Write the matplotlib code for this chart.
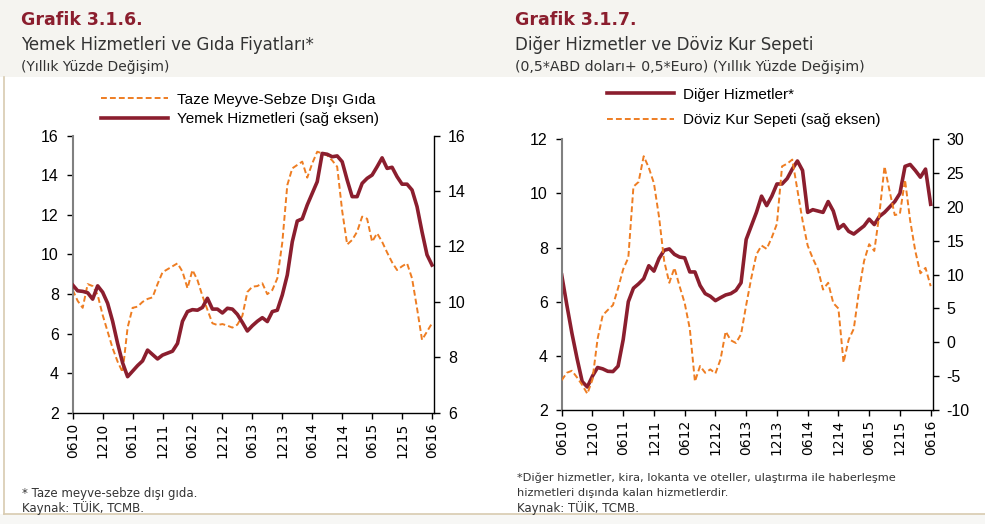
import matplotlib
matplotlib.use("Agg")
import matplotlib.pyplot as plt
from matplotlib.patches import Rectangle
from matplotlib.lines import Line2D

plt.rcParams["axes.unicode_minus"] = False

# monthly, 0610 .. 0616
TICK_LABELS = ["0610", "1210", "0611", "1211", "0612", "1212", "0613",
               "1213", "0614", "1214", "0615", "1215", "0616"]

# Grafik 3.1.6
gida = [8.2, 7.65, 7.3, 8.5, 8.4, 7.95, 6.94, 6.1, 5.26, 4.58,
        4.05, 6.3, 7.3, 7.36, 7.6, 7.75, 7.83, 8.5, 9.1, 9.25,
        9.4, 9.55, 9.13, 8.29, 9.21, 8.7, 7.9, 7.2, 6.52, 6.43,
        6.48, 6.4, 6.3, 6.45, 6.9, 8.1, 8.37, 8.4, 8.54, 7.99,
        8.2, 8.79, 10.6, 13.5, 14.35, 14.52, 14.69, 13.88, 14.6, 15.19,
        15.11, 15.0, 14.75, 14.43, 12.2, 10.5, 10.73, 11.15, 11.91, 11.8,
        10.64, 11.07, 10.64, 10.1, 9.6, 9.21, 9.4, 9.55, 8.79, 7.28,
        5.68, 6.1, 6.52]
yemek = [10.61, 10.4, 10.38, 10.33, 10.1, 10.58, 10.35, 9.95, 9.3, 8.5,
         7.8, 7.3, 7.5, 7.7, 7.87, 8.26, 8.1, 7.94, 8.08, 8.15,
         8.22, 8.5, 9.3, 9.65, 9.72, 9.7, 9.8, 10.13, 9.74, 9.74,
         9.6, 9.77, 9.74, 9.55, 9.26, 8.95, 9.14, 9.3, 9.43, 9.29,
         9.65, 9.7, 10.25, 10.97, 12.17, 12.92, 13.0, 13.5, 13.92, 14.34,
         15.36, 15.33, 15.24, 15.27, 15.06, 14.4, 13.8, 13.8, 14.28, 14.46,
         14.58, 14.88, 15.2, 14.82, 14.86, 14.52, 14.25, 14.25, 14.04, 13.44,
         12.53, 11.7, 11.33]

# Grafik 3.1.7
diger = [6.99, 5.88, 4.83, 3.9, 3.05, 2.85, 3.25, 3.57, 3.52, 3.43,
         3.42, 3.62, 4.6, 6.0, 6.5, 6.66, 6.85, 7.33, 7.13, 7.6,
         7.9, 7.95, 7.75, 7.65, 7.62, 7.1, 7.1, 6.6, 6.3, 6.2,
         6.04, 6.15, 6.25, 6.3, 6.42, 6.7, 8.3, 8.8, 9.3, 9.9,
         9.55, 9.9, 10.35, 10.35, 10.55, 10.9, 11.2, 10.85, 9.3, 9.4,
         9.35, 9.3, 9.7, 9.35, 8.7, 8.85, 8.6, 8.5, 8.65, 8.8,
         9.05, 8.85, 9.15, 9.3, 9.5, 9.7, 10.0, 11.0, 11.07, 10.85,
         10.6, 10.9, 9.6]
kur = [-5.6, -4.5, -4.2, -5.2, -6.3, -7.6, -5.5, 0.5, 4.0, 4.78,
       5.5, 8.0, 10.8, 12.5, 23.0, 23.7, 27.5, 25.8, 23.5, 18.5,
       12.0, 8.8, 11.0, 8.3, 5.8, 2.0, -5.8, -3.5, -4.5, -4.0,
       -4.6, -2.5, 1.6, 0.3, -0.1, 1.2, 5.5, 9.5, 13.0, 14.3,
       13.8, 15.5, 17.5, 26.0, 26.4, 27.0, 22.5, 18.0, 14.3, 12.4,
       10.8, 7.8, 8.8, 5.8, 5.0, -3.0, 0.4, 2.0, 7.5, 12.0,
       14.5, 13.5, 19.0, 26.0, 22.3, 18.8, 19.0, 24.0, 18.0, 13.5,
       10.2, 11.0, 8.3]

RED = "#8B1E2E"
ORANGE = "#EE7D22"
BEIGE = "#F5F4F0"
TAN = "#D8CBB0"
TXT = "#333333"

W, H = 985, 524
fig = plt.figure(figsize=(W / 100, H / 100), dpi=100)
fig.patch.set_facecolor("white")

def px(x0, y0, x1, y1):
    # pixel box (top-left origin) -> figure fraction rect
    return [x0 / W, 1 - y1 / H, (x1 - x0) / W, (y1 - y0) / H]

# page decoration
fig.patches.append(Rectangle((0, 1 - 77 / H), 1, 77 / H, transform=fig.transFigure,
                             facecolor=BEIGE, edgecolor="none", zorder=-10))
fig.patches.append(Rectangle((0, 0), 1, 10 / H, transform=fig.transFigure,
                             facecolor="#F7F7F5", edgecolor="none", zorder=-10))
fig.lines.append(Line2D([4 / W, 4 / W], [10 / H, 1 - 77 / H], transform=fig.transFigure,
                        color=TAN, lw=1.2))
fig.lines.append(Line2D([4 / W, 1], [10 / H, 10 / H], transform=fig.transFigure,
                        color=TAN, lw=1.2))

TF = "DejaVu Sans"
AF = "Liberation Sans"

def header(x, title, sub, sub2, s1=12, s2=10):
    fig.text(x / W, 1 - 20 / H, title, fontsize=12.5, fontweight="bold", color=RED,
             family=TF, va="center", ha="left")
    fig.text(x / W, 1 - 45 / H, sub, fontsize=s1, color=TXT, family=TF,
             va="center", ha="left")
    fig.text(x / W, 1 - 67 / H, sub2, fontsize=s2, color=TXT, family=TF,
             va="center", ha="left")

header(21, "Grafik 3.1.6.", "Yemek Hizmetleri ve Gıda Fiyatları*", "(Yıllık Yüzde Değişim)")
header(515, "Grafik 3.1.7.", "Diğer Hizmetler ve Döviz Kur Sepeti",
       "(0,5*ABD doları+ 0,5*Euro) (Yıllık Yüzde Değişim)", s1=12, s2=10.2)

def style(ax, ax2, n):
    x = list(range(n))
    ax.set_xlim(0, n - 1 + 0.4)
    ax.set_xticks(x[::6])
    for a in (ax, ax2):
        a.set_facecolor("none")
        a.spines["top"].set_visible(False)
        a.tick_params(axis="y", direction="out", length=4, width=1, pad=6,
                      labelsize=11.5, colors="black")
    ax.tick_params(axis="x", direction="out", length=4, width=1, pad=3,
                   labelsize=10, colors="black")
    ax.set_xticklabels(TICK_LABELS, rotation=90, family=TF, fontsize=10)
    ax.spines["right"].set_visible(False)
    ax.spines["left"].set_color("#808080")
    ax.spines["left"].set_linewidth(1.5)
    ax.spines["bottom"].set_linewidth(1.0)
    ax2.spines["left"].set_visible(False)
    ax2.spines["bottom"].set_visible(False)
    ax2.spines["right"].set_linewidth(1.0)
    for a in (ax, ax2):
        for lab in a.get_yticklabels():
            lab.set_family(AF)

# ---- left chart
ax1 = fig.add_axes(px(72.7, 135.7, 434, 412.7))
ax1b = ax1.twinx()
x = list(range(len(gida)))
l1, = ax1.plot(x, gida, color=ORANGE, lw=1.4, dashes=(3, 1.6))
l2, = ax1b.plot(x, yemek, color=RED, lw=2.6, solid_joinstyle="round")
ax1.set_ylim(2, 16)
ax1.set_yticks(range(2, 17, 2))
ax1b.set_ylim(6, 16)
ax1b.set_yticks(range(6, 17, 2))
style(ax1, ax1b, len(gida))
fig.legend([l1, l2], ["Taze Meyve-Sebze Dışı Gıda", "Yemek Hizmetleri (sağ eksen)"],
           loc="upper left", bbox_to_anchor=(93 / W, 1 - 85 / H), frameon=False,
           prop={"family": AF, "size": 11}, handlelength=4.4, handletextpad=0.6,
           labelspacing=0.35, borderpad=0)

# ---- right chart
ax2 = fig.add_axes(px(561.7, 139.3, 932.7, 410))
ax2b = ax2.twinx()
x = list(range(len(diger)))
r1, = ax2.plot(x, diger, color=RED, lw=2.6, solid_joinstyle="round")
r2, = ax2b.plot(x, kur, color=ORANGE, lw=1.4, dashes=(3, 1.6))
ax2.set_ylim(2, 12)
ax2.set_yticks(range(2, 13, 2))
ax2b.set_ylim(-10, 30)
ax2b.set_yticks(range(-10, 31, 5))
style(ax2, ax2b, len(diger))
fig.legend([r1, r2], ["Diğer Hizmetler*", "Döviz Kur Sepeti (sağ eksen)"],
           loc="upper left", bbox_to_anchor=(599 / W, 1 - 80 / H), frameon=False,
           prop={"family": AF, "size": 11}, handlelength=4.4, handletextpad=0.6,
           labelspacing=0.75, borderpad=0)

# ---- notes
NS = 8.5
fig.text(22 / W, 1 - 493 / H, "* Taze meyve-sebze dışı gıda.", fontsize=NS, color=TXT,
         family=TF, va="center")
fig.text(22 / W, 1 - 508 / H, "Kaynak: TÜİK, TCMB.", fontsize=NS, color=TXT,
         family=TF, va="center")
fig.text(517 / W, 1 - 478 / H,
         "*Diğer hizmetler, kira, lokanta ve oteller, ulaştırma ile haberleşme",
         fontsize=NS - 0.3, color=TXT, family=TF, va="center")
fig.text(517 / W, 1 - 493 / H, "hizmetleri dışında kalan hizmetlerdir.", fontsize=NS - 0.3,
         color=TXT, family=TF, va="center")
fig.text(517 / W, 1 - 508 / H, "Kaynak: TÜİK, TCMB.", fontsize=NS, color=TXT,
         family=TF, va="center")

fig.savefig("out.png", dpi=100)
